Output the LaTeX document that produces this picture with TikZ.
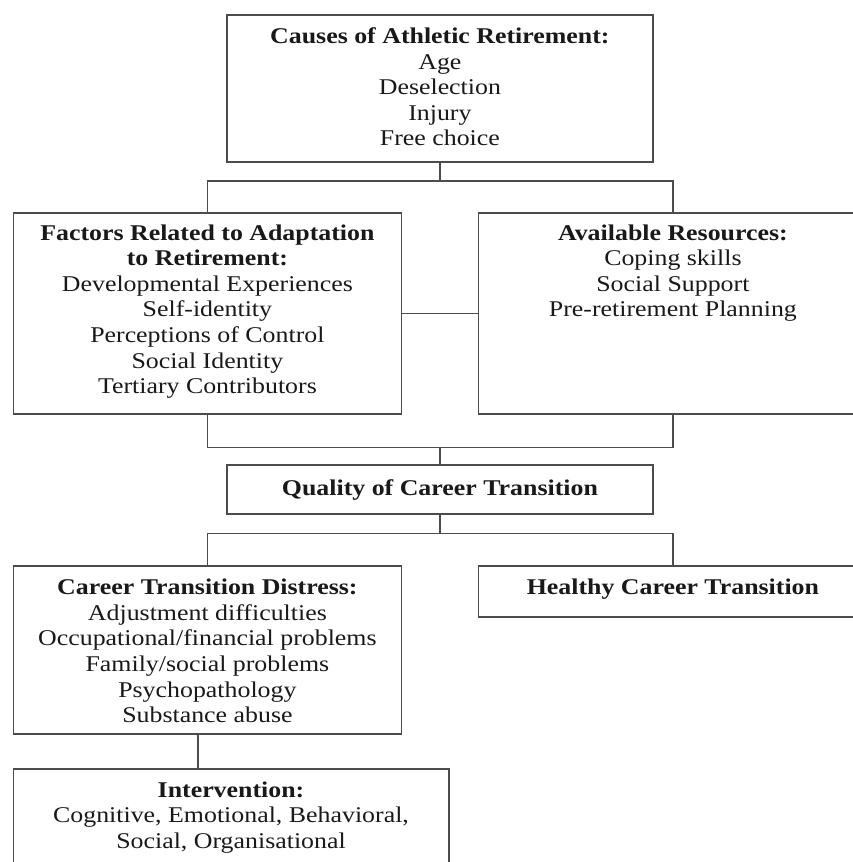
\documentclass[tikz,border=0pt]{standalone}
\usepackage{fontspec}
\setmainfont{Liberation Serif}[FakeStretch=1.15]
\begin{document}
\begin{tikzpicture}[x=1pt,y=-1pt,
  box/.style={draw=black!70, line width=1.8pt, inner sep=0pt, anchor=north west},
  txt/.style={align=center, inner sep=0pt, anchor=north, text=black!90,
    font=\fontsize{22.5}{25.6}\selectfont},
  conn/.style={draw=black!70, line width=1.8pt}]
\fill[white] (0,0) rectangle (853,862);
\clip (0,0) rectangle (853,862);
% boxes
\node[box, minimum width=426pt, minimum height=147pt] (causes) at (226,14) {};
\node[box, minimum width=388pt, minimum height=200.7pt] (factors) at (12.5,212.3) {};
\node[box, minimum width=389pt, minimum height=200.7pt] (res) at (477.5,212.3) {};
\node[box, minimum width=426pt, minimum height=49.3pt] (quality) at (226,464) {};
\node[box, minimum width=388pt, minimum height=168.3pt] (distress) at (12.5,565) {};
\node[box, minimum width=389pt, minimum height=51pt] (healthy) at (477.5,565) {};
\node[box, minimum width=435.2pt, minimum height=105pt] (interv) at (12.5,767.7) {};
% texts
\node[txt] (causesT) at ([yshift=-11.3pt]causes.north)
  {\strut\textbf{Causes of Athletic Retirement:}\\\strut Age\\\strut Deselection\\\strut Injury\\\strut Free choice};
\node[txt] (factorsT) at ([yshift=-9.7pt]factors.north)
  {\strut\textbf{Factors Related to Adaptation}\\\strut\textbf{to Retirement:}\\\strut Developmental Experiences\\\strut Self-identity\\\strut Perceptions of Control\\\strut Social Identity\\\strut Tertiary Contributors};
\node[txt] (resT) at ([yshift=-9.7pt]res.north)
  {\strut\textbf{Available Resources:}\\\strut Coping skills\\\strut Social Support\\\strut Pre-retirement Planning};
\node[txt] (qualityT) at ([yshift=-13pt]quality.north)
  {\strut\textbf{Quality of Career Transition}};
\node[txt] (distressT) at ([yshift=-11.5pt]distress.north)
  {\strut\textbf{Career Transition Distress:}\\\strut Adjustment difficulties\\\strut Occupational/financial problems\\\strut Family/social problems\\\strut Psychopathology\\\strut Substance abuse};
\node[txt] (healthyT) at ([yshift=-11.3pt]healthy.north)
  {\strut\textbf{Healthy Career Transition}};
\node[txt] (intervT) at ([yshift=-11.3pt]interv.north)
  {\strut\textbf{Intervention:}\\\strut Cognitive, Emotional, Behavioral,\\\strut Social, Organisational};
% connectors
\coordinate (j1) at ([yshift=-18pt]causes.south);
\coordinate (j2) at ([yshift=16.5pt]quality.north);
\coordinate (j3) at ([yshift=-18.4pt]quality.south);
\draw[conn] (causes.south) -- (j1);
\draw[conn] (factors.north) |- (j1) -| (res.north);
\draw[conn] (factors.east) -- (res.west);
\draw[conn] (factors.south) |- (j2) -| (res.south);
\draw[conn] (j2) -- (quality.north);
\draw[conn] (quality.south) -- (j3);
\draw[conn] (distress.north) |- (j3) -| (healthy.north);
\draw[conn] ([xshift=-9.8pt]distress.south) -- ([xshift=-9.8pt]distress.south |- interv.north);
\end{tikzpicture}
\end{document}
